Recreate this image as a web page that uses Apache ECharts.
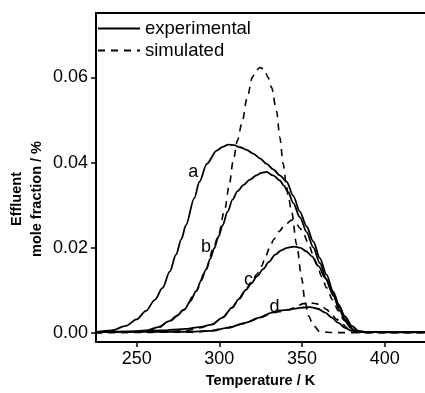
<!DOCTYPE html>
<html>
<head>
<meta charset="utf-8">
<script src="https://cdn.jsdelivr.net/npm/echarts@6/dist/echarts.min.js"></script>
<style>html,body{margin:0;padding:0;background:#fff}#c{width:425px;height:393px}</style>
</head>
<body>
<div id="c"></div>
<script>
// ---- data (Temperature / K, effluent mole fraction / %) ----
var xTicks = [250, 300, 350, 400];
var yTicks = [0, 0.02, 0.04, 0.06];

var expA = [[225,0.0002],[235,0.0006],[243.5,0.0017],[250,0.0032],[255.6,0.0052],[261,0.0078],[265.7,0.0106],[270,0.0144],[273.8,0.0184],[277,0.0220],[279.8,0.0253],[284.8,0.0316],[288,0.0355],[292.4,0.0397],[298.4,0.0428],[302,0.0437],[305.4,0.0442],[309,0.0441],[312.5,0.0436],[316.5,0.0430],[320.5,0.0421],[324.5,0.0410],[328.6,0.0397],[332.6,0.0384],[336.6,0.0370],[340.7,0.0355],[344.7,0.0322],[348.7,0.0285],[352.8,0.0250],[356.8,0.0215],[360.8,0.0176],[364.8,0.0137],[368.9,0.0097],[372.9,0.0059],[376,0.0033],[379,0.0017],[381,0.0008],[383,0.0004],[390,0.0002],[425,0.0002]];
var expB = [[225,0.0002],[245,0.0003],[255.6,0.0006],[263,0.0014],[269.7,0.0028],[274,0.0040],[278.8,0.0055],[282.5,0.0075],[285.9,0.0098],[289,0.0123],[291.9,0.0149],[294.5,0.0174],[296.9,0.0199],[299.5,0.0226],[302,0.0253],[305,0.0285],[308,0.0313],[311,0.0333],[314.5,0.0347],[318.5,0.0360],[322.5,0.0370],[325.5,0.0376],[328.6,0.0378],[332.5,0.0370],[336.6,0.0358],[339,0.0346],[341.6,0.0331],[344.7,0.0305],[348.7,0.0272],[352.8,0.0237],[356.8,0.0201],[360.8,0.0164],[364.8,0.0126],[368.9,0.0088],[372.9,0.0052],[376,0.0029],[379,0.0014],[381,0.0007],[383,0.0003],[390,0.0002],[425,0.0002]];
var expC = [[225,0.0002],[250,0.0004],[265,0.0006],[280,0.0010],[288,0.0014],[295.5,0.0020],[302,0.0036],[307.6,0.0059],[312,0.0080],[316,0.0101],[319.5,0.0117],[322.7,0.0133],[326.5,0.0150],[330,0.0167],[333.8,0.0184],[337.5,0.0194],[341,0.0200],[345.3,0.0203],[349,0.0200],[352.5,0.0192],[356,0.0180],[360,0.0157],[364.1,0.0129],[368,0.0098],[372.1,0.0067],[376,0.0039],[380.2,0.0017],[384.2,0.0005],[390,0.0002],[425,0.0002]];
var expD = [[225,0.0002],[280,0.0003],[295.5,0.0005],[305,0.0012],[315.7,0.0024],[324,0.0036],[331.8,0.0048],[337,0.0053],[341.9,0.0055],[347,0.0058],[351,0.0060],[355,0.0061],[359.5,0.0057],[364.1,0.0048],[368,0.0036],[372.1,0.0024],[376,0.0012],[380.2,0.0005],[385,0.0002],[425,0.0002]];

var simB = [[225,0.0001],[255,0.0003],[262,0.0010],[270,0.0028],[278.8,0.0055],[285.9,0.0098],[291.9,0.0149],[296.9,0.0204],[299.4,0.0230],[303.4,0.0292],[306,0.0348],[308.4,0.0405],[311,0.0452],[313.5,0.0490],[317,0.0555],[320,0.0600],[322,0.0615],[324.5,0.0623],[327,0.0620],[329.5,0.0600],[331.6,0.0576],[334.6,0.0521],[336.6,0.0459],[338.6,0.0397],[340.3,0.0355],[341.7,0.0320],[343.7,0.0285],[346.8,0.0207],[349.8,0.0129],[351.8,0.0075],[354,0.0040],[356.8,0.0018],[360.8,0.0003],[370,0.0001],[425,0.0001]];
var simC = [[225,0.0001],[265,0.0002],[280,0.0006],[288,0.0012],[295.5,0.0020],[302,0.0037],[307.6,0.0060],[312,0.0082],[316,0.0103],[319.5,0.0120],[322.7,0.0138],[325.5,0.0157],[328,0.0180],[330.5,0.0201],[333,0.0220],[336,0.0238],[339.7,0.0254],[343.7,0.0265],[346,0.0260],[348.8,0.0246],[351,0.0232],[353.8,0.0211],[356.5,0.0186],[358.9,0.0160],[362,0.0132],[364.9,0.0106],[368.5,0.0078],[372,0.0052],[375.5,0.0030],[379,0.0013],[383,0.0002],[425,0.0001]];
var simD = [[225,0.0001],[285,0.0002],[295,0.0006],[305,0.0013],[315,0.0022],[323,0.0033],[331,0.0045],[336,0.0050],[342,0.0054],[346,0.0061],[350.7,0.0069],[355,0.0071],[358.5,0.0069],[361.8,0.0064],[365,0.0055],[367.9,0.0044],[371,0.0032],[374.8,0.0020],[378,0.0010],[382,0.0003],[385,0.0001],[425,0.0001]];

var curveLabels = ['a', 'b', 'c', 'd'];
var curveLabelPos = [[284.2, 0.0378], [291.9, 0.0203], [317.7, 0.0125], [333.4, 0.0061]];

// ---- chart ----
var FONT = '"Liberation Sans", Arial, Helvetica, sans-serif';
var chart = echarts.init(document.getElementById('c'), null, {renderer: 'canvas'});

function solid(d) {
  return {type: 'line', name: 'experimental', data: d, symbol: 'none', smooth: 0.3, smoothMonotone: 'x',
    lineStyle: {color: '#000', width: 1.8, type: 'solid'}, itemStyle: {color: '#000'}, z: 3};
}
function dashed(d) {
  return {type: 'line', name: 'simulated', data: d, symbol: 'none', smooth: 0.3, smoothMonotone: 'x',
    lineStyle: {color: '#000', width: 1.6, type: [7, 6]}, itemStyle: {color: '#000'}, z: 2};
}

chart.setOption({
  animation: false,
  backgroundColor: '#fff',
  textStyle: {fontFamily: FONT},
  grid: {left: 96, right: 0, top: 13, bottom: 48.5, containLabel: false},
  legend: {
    orient: 'vertical', left: 97, top: 19, padding: 0, itemWidth: 42, itemHeight: 14, itemGap: 3,
    data: ['experimental', 'simulated'],
    itemStyle: {opacity: 0, color: 'transparent', borderWidth: 0},
    textStyle: {fontSize: 18.5, color: '#000', fontFamily: FONT},
    selectedMode: false
  },
  xAxis: [{
    type: 'value', min: 225.4, max: 424.4, position: 'bottom',
    axisLine: {onZero: false, lineStyle: {color: '#000', width: 2}},
    axisTick: {customValues: xTicks, length: 5, lineStyle: {color: '#000', width: 1.5}},
    axisLabel: {customValues: xTicks, fontSize: 18, color: '#000', margin: 8, fontFamily: FONT},
    splitLine: {show: false},
    name: 'Temperature / K', nameLocation: 'middle', nameGap: 31,
    nameTextStyle: {fontSize: 14.5, fontWeight: 'bold', color: '#000', fontFamily: FONT}
  }, {
    type: 'value', min: 225.4, max: 424.4, position: 'top',
    axisLine: {onZero: false, lineStyle: {color: '#000', width: 2}},
    axisTick: {show: false}, axisLabel: {show: false}, splitLine: {show: false}
  }],
  yAxis: {
    type: 'value', min: -0.0021, max: 0.0751,
    axisLine: {show: true, onZero: false, lineStyle: {color: '#000', width: 2}},
    axisTick: {show: true, customValues: yTicks, length: 5, lineStyle: {color: '#000', width: 1.5}},
    axisLabel: {customValues: yTicks, fontSize: 18, color: '#000', margin: 8, fontFamily: FONT,
      formatter: function (v) { return v.toFixed(2); }},
    splitLine: {show: false}
  },
  graphic: [{
    type: 'text', x: 27, y: 199, rotation: Math.PI / 2,
    style: {text: 'Effluent\nmole fraction / %', align: 'center', verticalAlign: 'middle',
      font: 'bold 14.5px ' + FONT, lineHeight: 20, fill: '#000'}
  }],
  series: [solid(expA), solid(expB), solid(expC), solid(expD), dashed(simB), dashed(simC), dashed(simD)]
});

var g = chart.getOption().graphic[0].elements.slice(0, 1);
curveLabels.forEach(function (t, i) {
  var p = chart.convertToPixel({gridIndex: 0}, curveLabelPos[i]);
  g.push({type: 'text', x: p[0], y: p[1],
    style: {text: t, align: 'center', verticalAlign: 'middle', font: '18px ' + FONT, fill: '#000'}});
});
chart.setOption({graphic: g}, {replaceMerge: ['graphic']});
</script>
</body>
</html>
